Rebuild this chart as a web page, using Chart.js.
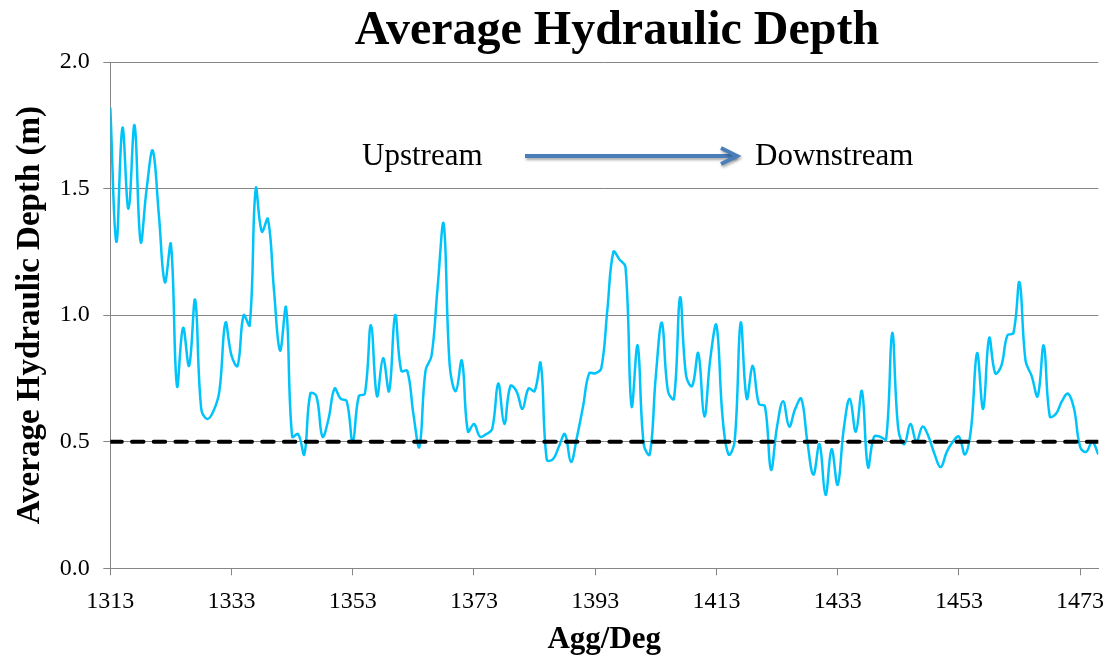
<!DOCTYPE html>
<html>
<head>
<meta charset="utf-8">
<script src="https://cdn.jsdelivr.net/npm/chart.js@4/dist/chart.umd.min.js"></script>
<style>
  html, body { margin: 0; padding: 0; background: #ffffff; }
  #wrap { width: 1112px; height: 659px; }
</style>
</head>
<body>
<div id="wrap"><canvas id="c" width="1112" height="659"></canvas></div>
<script>
// ---- Data ----
const sections = [
  1313,1314,1315,1316,1317,1318,1319,1320,1321,1322,1323,1324,1325,1326,1327,1328,1329,1330,1331,1332,
  1333,1334,1335,1336,1337,1338,1339,1340,1341,1342,1343,1344,1345,1346,1347,1348,1349,1350,1351,1352,
  1353,1354,1355,1356,1357,1358,1359,1360,1361,1362,1363,1364,1365,1366,1367,1368,1369,1370,1371,1372,
  1373,1374,1375,1376,1377,1378,1379,1380,1381,1382,1383,1384,1385,1386,1387,1388,1389,1390,1391,1392,
  1393,1394,1395,1396,1397,1398,1399,1400,1401,1402,1403,1404,1405,1406,1407,1408,1409,1410,1411,1412,
  1413,1414,1415,1416,1417,1418,1419,1420,1421,1422,1423,1424,1425,1426,1427,1428,1429,1430,1431,1432,
  1433,1434,1435,1436,1437,1438,1439,1440,1441,1442,1443,1444,1445,1446,1447,1448,1449,1450,1451,1452,
  1453,1454,1455,1456,1457,1458,1459,1460,1461,1462,1463,1464,1465,1466,1467,1468,1469,1470,1471,1472,
  1473,1474,1475,1476
];
const depth = [
  1.82,1.29,1.74,1.42,1.75,1.29,1.50,1.65,1.40,1.13,1.28,0.72,0.95,0.80,1.06,0.63,0.59,0.62,0.70,0.97,
  0.84,0.80,1.00,0.96,1.50,1.33,1.38,1.10,0.86,1.03,0.52,0.53,0.45,0.69,0.68,0.52,0.59,0.71,0.67,0.66,
  0.50,0.68,0.69,0.96,0.68,0.83,0.70,1.00,0.78,0.78,0.61,0.48,0.78,0.84,1.11,1.36,0.80,0.70,0.82,0.54,
  0.57,0.52,0.53,0.55,0.73,0.57,0.72,0.70,0.63,0.71,0.70,0.81,0.43,0.43,0.48,0.53,0.42,0.52,0.64,0.77,
  0.77,0.79,1.02,1.25,1.22,1.19,0.64,0.88,0.49,0.45,0.76,0.97,0.70,0.67,1.07,0.76,0.72,0.85,0.60,0.83,
  0.96,0.60,0.45,0.50,0.97,0.67,0.80,0.65,0.64,0.39,0.56,0.66,0.56,0.63,0.67,0.50,0.37,0.49,0.29,0.47,
  0.33,0.55,0.67,0.54,0.70,0.40,0.52,0.52,0.51,0.93,0.55,0.49,0.57,0.50,0.56,0.52,0.45,0.40,0.46,0.50,
  0.52,0.45,0.55,0.85,0.63,0.91,0.77,0.80,0.92,0.93,1.13,0.82,0.76,0.68,0.88,0.60,0.61,0.66,0.69,0.63,
  0.48,0.46,0.50,0.45
];
const tickLabels = [1313, 1333, 1353, 1373, 1393, 1413, 1433, 1453, 1473];
const yTicks = [0.0, 0.5, 1.0, 1.5, 2.0];
const threshold = 0.5;

const chartTitle = 'Average Hydraulic Depth';
const xTitle = 'Agg/Deg';
const yTitle = 'Average Hydraulic Depth (m)';
const leftNote = 'Upstream';
const rightNote = 'Downstream';

// ---- Build datasets from the arrays ----
const depthPoints = depth.map((v, i) => ({ x: sections[i], y: v }));
const thresholdPoints = [
  { x: sections[0], y: threshold },
  { x: sections[sections.length - 1], y: threshold }
];

const SERIF = '"Liberation Serif", "Times New Roman", "DejaVu Serif", serif';
const GRID = '#868686';

// Title + direction annotation drawn on the canvas
const annotate = {
  id: 'annotate',
  afterDraw(chart) {
    const ctx = chart.ctx;
    ctx.save();
    ctx.fillStyle = '#000';
    ctx.font = 'bold 48px ' + SERIF;
    ctx.textAlign = 'center';
    ctx.textBaseline = 'alphabetic';
    ctx.fillText(chartTitle, 617, 44);

    ctx.font = '31px ' + SERIF;
    ctx.textAlign = 'left';
    ctx.fillText(leftNote, 362, 165);
    ctx.fillText(rightNote, 755, 165);

    ctx.shadowColor = 'rgba(0,0,0,0.35)';
    ctx.shadowBlur = 3;
    ctx.shadowOffsetX = 1;
    ctx.shadowOffsetY = 2;
    ctx.strokeStyle = '#4A7EBB';
    ctx.lineWidth = 4;
    ctx.lineCap = 'butt';
    ctx.lineJoin = 'miter';
    ctx.beginPath();
    ctx.moveTo(525, 156);
    ctx.lineTo(736, 156);
    ctx.stroke();
    ctx.beginPath();
    ctx.moveTo(721, 148);
    ctx.lineTo(737, 156);
    ctx.lineTo(721, 164);
    ctx.stroke();
    ctx.restore();
  }
};

new Chart(document.getElementById('c'), {
  type: 'line',
  data: {
    datasets: [
      {
        label: 'Threshold',
        data: thresholdPoints,
        borderColor: '#000000',
        borderWidth: 4,
        borderDash: [11.5, 10.2],
        borderCapStyle: 'round',
        pointRadius: 0,
        tension: 0,
        fill: false,
        order: 0
      },
      {
        label: 'Average Hydraulic Depth',
        data: depthPoints,
        borderColor: 'rgb(0,195,250)',
        borderWidth: 2.5,
        pointRadius: 0,
        tension: 0.4,
        fill: false,
        order: 1
      }
    ]
  },
  options: {
    responsive: false,
    animation: false,
    devicePixelRatio: 1,
    layout: { padding: { top: 62, left: 5, right: 13.7, bottom: 0 } },
    plugins: {
      legend: { display: false },
      tooltip: { enabled: false },
      title: { display: false }
    },
    scales: {
      x: {
        type: 'linear',
        min: sections[0],
        max: sections[sections.length - 1],
        afterBuildTicks: (axis) => { axis.ticks = tickLabels.map(v => ({ value: v })); },
        grid: {
          drawOnChartArea: false,
          drawTicks: true,
          tickLength: 7,
          color: GRID,
          lineWidth: 1
        },
        border: { display: true, color: GRID, width: 1 },
        ticks: {
          autoSkip: false,
          maxRotation: 0,
          padding: 2.4,
          color: '#000',
          font: { family: SERIF, size: 24, lineHeight: 2.0 },
          callback: (v) => String(v)
        },
        title: {
          display: true,
          text: xTitle,
          color: '#000',
          font: { family: SERIF, size: 31, weight: 'bold' },
          padding: { top: -6.3, bottom: 0 }
        }
      },
      y: {
        type: 'linear',
        min: yTicks[0],
        max: yTicks[yTicks.length - 1],
        afterBuildTicks: (axis) => { axis.ticks = yTicks.map(v => ({ value: v })); },
        grid: {
          drawOnChartArea: true,
          drawTicks: true,
          tickLength: 7,
          color: GRID,
          lineWidth: 1
        },
        border: { display: true, color: GRID, width: 1 },
        ticks: {
          padding: 13.5,
          color: '#000',
          font: { family: SERIF, size: 24 },
          callback: (v) => Number(v).toFixed(1)
        },
        title: {
          display: true,
          text: yTitle,
          color: '#000',
          font: { family: SERIF, size: 33, weight: 'bold' },
          padding: { top: 5.2, bottom: -3.5 }
        }
      }
    }
  },
  plugins: [annotate]
});
</script>
</body>
</html>
